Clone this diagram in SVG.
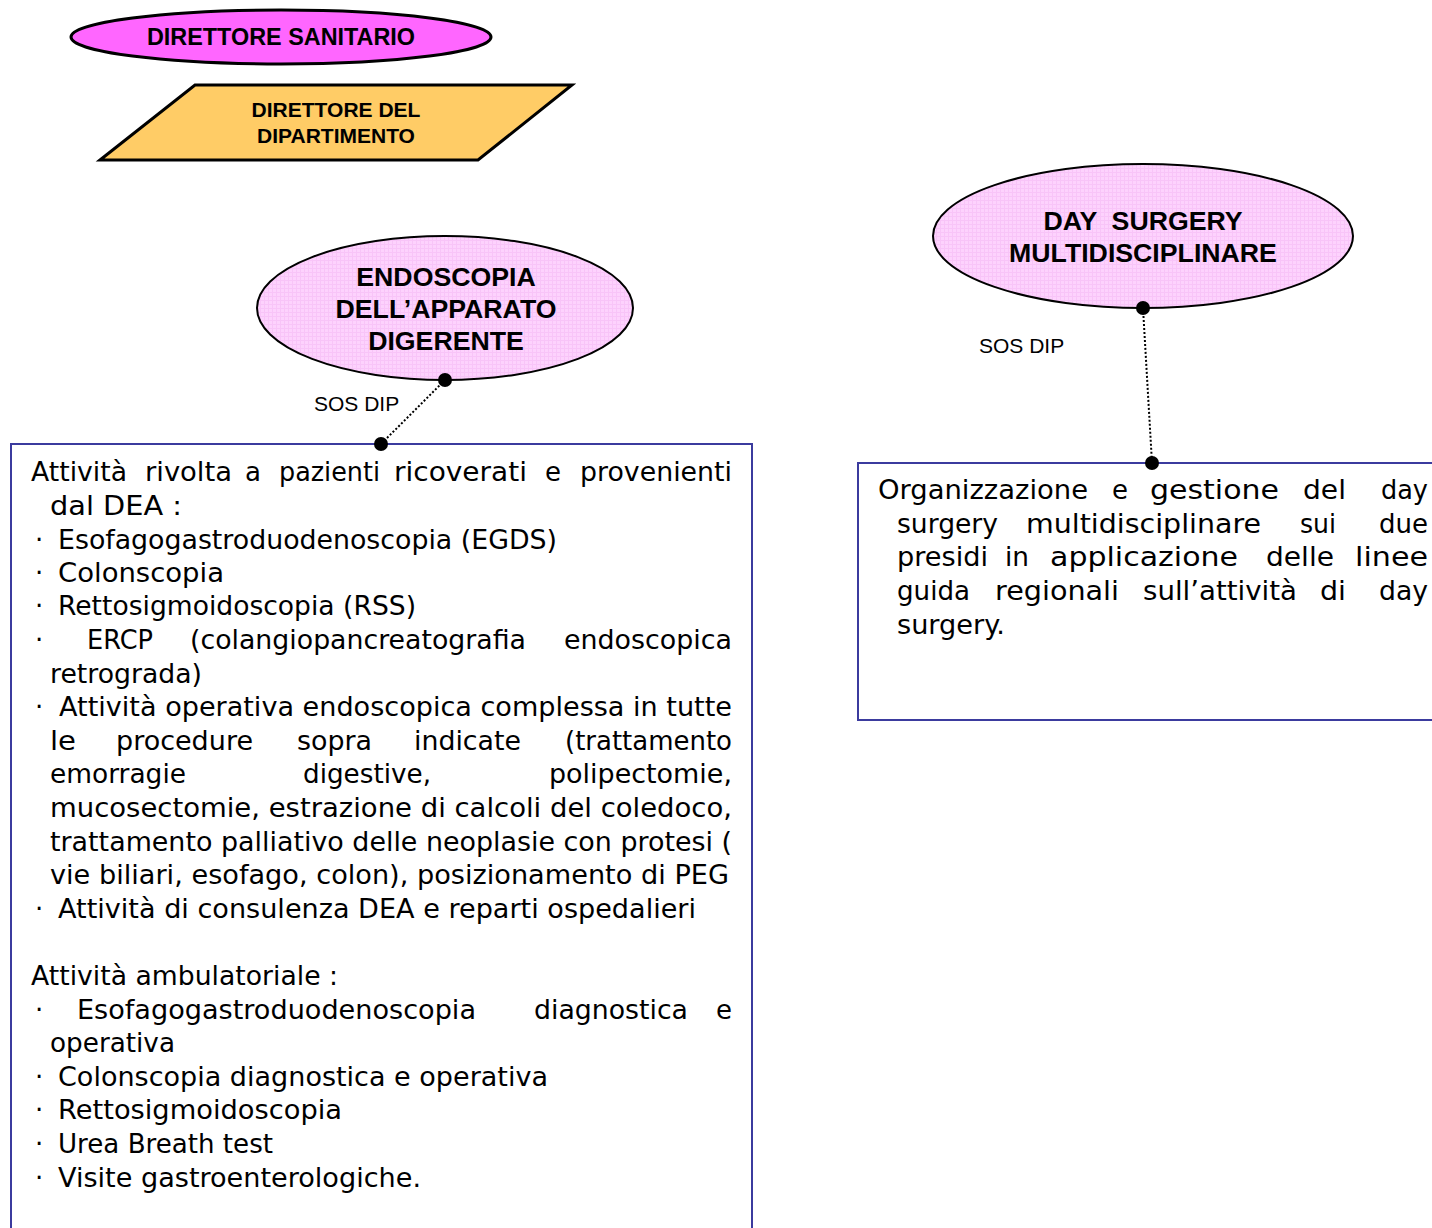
<svg xmlns="http://www.w3.org/2000/svg" width="1432" height="1228" viewBox="0 0 1432 1228">
<style>
.b{font-family:"Liberation Sans",Arial,sans-serif;font-weight:bold;fill:#000;text-anchor:middle}
.lbl{font-family:"Liberation Sans",Arial,sans-serif;font-size:21px;fill:#000}
.t{font-family:"DejaVu Sans","Noto Sans",sans-serif;font-size:26px;fill:#000}
.box{fill:#fff;stroke:#3b3b9e;stroke-width:2}
.conn{stroke:#000;stroke-width:2;stroke-dasharray:2 2;fill:none}
.dot{fill:#000}
</style>
<defs>
<pattern id="pk" width="4" height="4" patternUnits="userSpaceOnUse">
<rect width="4" height="4" fill="#fdd2fd"/>
<rect width="4" height="1" fill="#f8c4f8"/>
<rect width="1" height="4" fill="#f8c4f8"/>
</pattern>
</defs>
<rect width="1432" height="1228" fill="#fff"/>

<g id="direttore-sanitario">
<ellipse cx="281" cy="37" rx="210" ry="27" fill="#ff66ff" stroke="#000" stroke-width="3"/>
<text class="b" x="281" y="45" font-size="23.4">DIRETTORE SANITARIO</text>
</g>

<g id="direttore-dipartimento">
<polygon points="100,160 195,85 572,85 478,160" fill="#ffcc66" stroke="#000" stroke-width="3"/>
<text class="b" x="336" y="117" font-size="21">DIRETTORE DEL</text>
<text class="b" x="336" y="143" font-size="21">DIPARTIMENTO</text>
</g>

<g id="endoscopia">
<ellipse cx="445" cy="308" rx="188" ry="72" fill="url(#pk)" stroke="#000" stroke-width="2"/>
<text class="b" x="446" y="286" font-size="26.7">ENDOSCOPIA</text>
<text class="b" x="446" y="318" font-size="26.7">DELL’APPARATO</text>
<text class="b" x="446" y="350" font-size="26.7">DIGERENTE</text>
</g>

<g id="day-surgery">
<ellipse cx="1143" cy="236" rx="210" ry="72" fill="url(#pk)" stroke="#000" stroke-width="2"/>
<text class="b" x="1143" y="230" font-size="26.7" xml:space="preserve">DAY  SURGERY</text>
<text class="b" x="1143" y="262" font-size="26.7">MULTIDISCIPLINARE</text>
</g>

<g id="box-endoscopia">
<rect class="box" x="11" y="444" width="741" height="800"/>
<text class="t" x="31" y="481" textLength="96" lengthAdjust="spacingAndGlyphs">Attività</text>
<text class="t" x="145" y="481" textLength="87" lengthAdjust="spacingAndGlyphs">rivolta</text>
<text class="t" x="245" y="481" textLength="16" lengthAdjust="spacingAndGlyphs">a</text>
<text class="t" x="279" y="481" textLength="101" lengthAdjust="spacingAndGlyphs">pazienti</text>
<text class="t" x="394" y="481" textLength="133" lengthAdjust="spacingAndGlyphs">ricoverati</text>
<text class="t" x="545" y="481" textLength="16" lengthAdjust="spacingAndGlyphs">e</text>
<text class="t" x="580" y="481" textLength="152" lengthAdjust="spacingAndGlyphs">provenienti</text>

<text class="t" x="50" y="515" textLength="132" lengthAdjust="spacingAndGlyphs">dal DEA :</text>

<text class="t" x="35" y="549">·</text>
<text class="t" x="58" y="549" textLength="499" lengthAdjust="spacingAndGlyphs">Esofagogastroduodenoscopia (EGDS)</text>
<text class="t" x="35" y="582">·</text>
<text class="t" x="58" y="582" textLength="166" lengthAdjust="spacingAndGlyphs">Colonscopia</text>
<text class="t" x="35" y="615">·</text>
<text class="t" x="58" y="615" textLength="358" lengthAdjust="spacingAndGlyphs">Rettosigmoidoscopia (RSS)</text>

<text class="t" x="35" y="649">·</text>
<text class="t" x="87" y="649" textLength="66" lengthAdjust="spacingAndGlyphs">ERCP</text>
<text class="t" x="190" y="649" textLength="336" lengthAdjust="spacingAndGlyphs">(colangiopancreatografia</text>
<text class="t" x="564" y="649" textLength="168" lengthAdjust="spacingAndGlyphs">endoscopica</text>
<text class="t" x="50" y="683" textLength="152" lengthAdjust="spacingAndGlyphs">retrograda)</text>

<text class="t" x="35" y="716">·</text>
<text class="t" x="59" y="716" textLength="673" lengthAdjust="spacingAndGlyphs">Attività operativa endoscopica complessa in tutte</text>
<text class="t" x="50" y="750" textLength="26" lengthAdjust="spacingAndGlyphs">le</text>
<text class="t" x="116" y="750" textLength="137" lengthAdjust="spacingAndGlyphs">procedure</text>
<text class="t" x="297" y="750" textLength="75" lengthAdjust="spacingAndGlyphs">sopra</text>
<text class="t" x="414" y="750" textLength="107" lengthAdjust="spacingAndGlyphs">indicate</text>
<text class="t" x="565" y="750" textLength="167" lengthAdjust="spacingAndGlyphs">(trattamento</text>
<text class="t" x="50" y="783" textLength="136" lengthAdjust="spacingAndGlyphs">emorragie</text>
<text class="t" x="303" y="783" textLength="128" lengthAdjust="spacingAndGlyphs">digestive,</text>
<text class="t" x="549" y="783" textLength="183" lengthAdjust="spacingAndGlyphs">polipectomie,</text>
<text class="t" x="50" y="817" textLength="682" lengthAdjust="spacingAndGlyphs">mucosectomie, estrazione di calcoli del coledoco,</text>
<text class="t" x="50" y="851" textLength="682" lengthAdjust="spacingAndGlyphs">trattamento palliativo delle neoplasie con protesi (</text>
<text class="t" x="50" y="884" textLength="679" lengthAdjust="spacingAndGlyphs">vie biliari, esofago, colon), posizionamento di PEG</text>
<text class="t" x="35" y="918">·</text>
<text class="t" x="58" y="918" textLength="638" lengthAdjust="spacingAndGlyphs">Attività di consulenza DEA e reparti ospedalieri</text>

<text class="t" x="31" y="985" textLength="307" lengthAdjust="spacingAndGlyphs">Attività ambulatoriale :</text>
<text class="t" x="35" y="1019">·</text>
<text class="t" x="77" y="1019" textLength="399" lengthAdjust="spacingAndGlyphs">Esofagogastroduodenoscopia</text>
<text class="t" x="534" y="1019" textLength="154" lengthAdjust="spacingAndGlyphs">diagnostica</text>
<text class="t" x="716" y="1019" textLength="16" lengthAdjust="spacingAndGlyphs">e</text>
<text class="t" x="50" y="1052" textLength="125" lengthAdjust="spacingAndGlyphs">operativa</text>
<text class="t" x="35" y="1086">·</text>
<text class="t" x="58" y="1086" textLength="490" lengthAdjust="spacingAndGlyphs">Colonscopia diagnostica e operativa</text>
<text class="t" x="35" y="1119">·</text>
<text class="t" x="58" y="1119" textLength="284" lengthAdjust="spacingAndGlyphs">Rettosigmoidoscopia</text>
<text class="t" x="35" y="1153">·</text>
<text class="t" x="58" y="1153" textLength="215" lengthAdjust="spacingAndGlyphs">Urea Breath test</text>
<text class="t" x="35" y="1187">·</text>
<text class="t" x="58" y="1187" textLength="363" lengthAdjust="spacingAndGlyphs">Visite gastroenterologiche.</text>
</g>

<g id="box-day-surgery">
<rect class="box" x="858" y="463" width="590" height="257"/>
<text class="t" x="878" y="499" textLength="210" lengthAdjust="spacingAndGlyphs">Organizzazione</text>
<text class="t" x="1112" y="499" textLength="16" lengthAdjust="spacingAndGlyphs">e</text>
<text class="t" x="1150" y="499" textLength="129" lengthAdjust="spacingAndGlyphs">gestione</text>
<text class="t" x="1303" y="499" textLength="43" lengthAdjust="spacingAndGlyphs">del</text>
<text class="t" x="1381" y="499" textLength="47" lengthAdjust="spacingAndGlyphs">day</text>
<text class="t" x="897" y="533" textLength="101" lengthAdjust="spacingAndGlyphs">surgery</text>
<text class="t" x="1026" y="533" textLength="235" lengthAdjust="spacingAndGlyphs">multidisciplinare</text>
<text class="t" x="1300" y="533" textLength="36" lengthAdjust="spacingAndGlyphs">sui</text>
<text class="t" x="1379" y="533" textLength="49" lengthAdjust="spacingAndGlyphs">due</text>
<text class="t" x="897" y="566" textLength="91" lengthAdjust="spacingAndGlyphs">presidi</text>
<text class="t" x="1005" y="566" textLength="24" lengthAdjust="spacingAndGlyphs">in</text>
<text class="t" x="1050" y="566" textLength="188" lengthAdjust="spacingAndGlyphs">applicazione</text>
<text class="t" x="1266" y="566" textLength="68" lengthAdjust="spacingAndGlyphs">delle</text>
<text class="t" x="1355" y="566" textLength="73" lengthAdjust="spacingAndGlyphs">linee</text>
<text class="t" x="897" y="600" textLength="73" lengthAdjust="spacingAndGlyphs">guida</text>
<text class="t" x="995" y="600" textLength="124" lengthAdjust="spacingAndGlyphs">regionali</text>
<text class="t" x="1143" y="600" textLength="154" lengthAdjust="spacingAndGlyphs">sull’attività</text>
<text class="t" x="1320" y="600" textLength="26" lengthAdjust="spacingAndGlyphs">di</text>
<text class="t" x="1379" y="600" textLength="49" lengthAdjust="spacingAndGlyphs">day</text>
<text class="t" x="897" y="634" textLength="108" lengthAdjust="spacingAndGlyphs">surgery.</text>
</g>

<g id="connectors">
<line class="conn" x1="445" y1="380" x2="381" y2="444"/>
<circle class="dot" cx="445" cy="380" r="7"/>
<circle class="dot" cx="381" cy="444" r="7"/>
<text class="lbl" x="314" y="411">SOS DIP</text>
<line class="conn" x1="1143" y1="308" x2="1152" y2="463"/>
<circle class="dot" cx="1143" cy="308" r="7"/>
<circle class="dot" cx="1152" cy="463" r="7"/>
<text class="lbl" x="979" y="353">SOS DIP</text>
</g>
</svg>
